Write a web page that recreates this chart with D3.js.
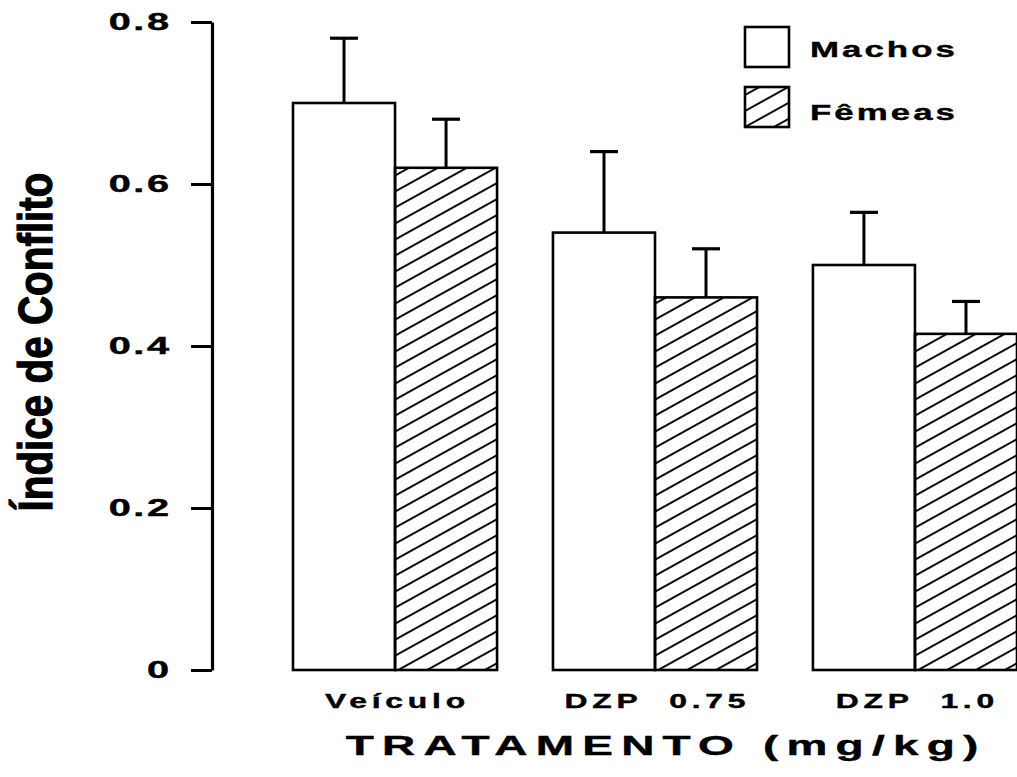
<!DOCTYPE html>
<html>
<head>
<meta charset="utf-8">
<script src="https://cdn.jsdelivr.net/npm/d3@7"></script>
<style>
  body { margin: 0; background: #fff; }
  svg { display: block; }
  text { font-family: "Liberation Sans", Arial, sans-serif; font-weight: bold; fill: #000; }
</style>
</head>
<body>
<svg id="chart" width="1017" height="777"></svg>
<script>
// Conflict index by treatment, males vs females (mean + SEM)
const categories = ["Veículo", "DZP  0.75", "DZP  1.0"];
const seriesNames = ["Machos", "Fêmeas"];
const machos = [0.70, 0.54, 0.50];
const machosErr = [0.08, 0.10, 0.065];
const femeas = [0.62, 0.46, 0.415];
const femeasErr = [0.06, 0.06, 0.04];
const yTicks = [0, 0.2, 0.4, 0.6, 0.8];
const yTickLabels = ["0", "0.2", "0.4", "0.6", "0.8"];
const yTitle = "Índice de Conflito";
const xTitle = "TRATAMENTO (mg/kg)";

const rows = categories.map((c, i) => ({
  cat: c,
  bars: [
    { s: seriesNames[0], v: machos[i], e: machosErr[i] },
    { s: seriesNames[1], v: femeas[i], e: femeasErr[i] }
  ]
}));

const svg = d3.select("#chart");

// hatch pattern for the female series
const defs = svg.append("defs");
defs.append("pattern")
  .attr("id", "hatch")
  .attr("patternUnits", "userSpaceOnUse")
  .attr("width", 14).attr("height", 14)
  .attr("patternTransform", "rotate(-29)")
  .append("line")
  .attr("x1", -2).attr("x2", 16).attr("y1", 7).attr("y2", 7)
  .attr("stroke", "#000").attr("stroke-width", 1.9);

const y = d3.scaleLinear().domain([0, 0.8]).range([670, 22]);
const x0 = d3.scaleBand().domain(categories).range([293, 1017]).paddingInner(0.215).paddingOuter(0);
const x1 = d3.scaleBand().domain(seriesNames).range([0, x0.bandwidth()]);
const fill = d3.scaleOrdinal().domain(seriesNames).range(["#fff", "url(#hatch)"]);

// horizontally stretch a text element around its own x anchor
function stretch(sel, sx) {
  sel.each(function () {
    const t = d3.select(this);
    const x = +t.attr("x") || 0;
    t.attr("transform", `translate(${x * (1 - sx)},0) scale(${sx},1)`);
  });
}
function widthOf(node) { return node.getComputedTextLength(); }

// y axis
const yAxis = d3.axisLeft(y)
  .tickValues(yTicks)
  .tickFormat((d, i) => yTickLabels[i])
  .tickSize(21)
  .tickSizeOuter(0)
  .tickPadding(22);

const gy = svg.append("g").attr("transform", "translate(212,0)").call(yAxis);
gy.select(".domain").attr("stroke-width", 3.2).attr("stroke", "#000");
gy.selectAll(".tick line").attr("stroke-width", 3).attr("stroke", "#000");
const tickText = gy.selectAll(".tick text")
  .attr("font-size", 23)
  .attr("font-family", null)
  .style("letter-spacing", "1.5px")
  .attr("dx", 1.5)
  .attr("fill", "#000")
  .attr("stroke", "#000").attr("stroke-width", 0.4);
{
  const ref = tickText.filter((d, i) => yTickLabels[i] === "0.8").node();
  stretch(tickText, 63 / widthOf(ref));
}

// bars
const groups = svg.append("g").selectAll("g.grp")
  .data(rows).join("g")
  .attr("class", "grp")
  .attr("transform", d => `translate(${x0(d.cat)},0)`);

groups.selectAll("rect")
  .data(d => d.bars).join("rect")
  .attr("x", d => x1(d.s))
  .attr("y", d => y(d.v))
  .attr("width", x1.bandwidth())
  .attr("height", d => y(0) - y(d.v))
  .attr("fill", d => fill(d.s))
  .attr("stroke", "#000")
  .attr("stroke-width", 2.6);

// error bars (upper only)
const capW = 28;
const eb = groups.selectAll("g.err").data(d => d.bars).join("g").attr("class", "err");
eb.append("line")
  .attr("x1", d => x1(d.s) + x1.bandwidth() / 2)
  .attr("x2", d => x1(d.s) + x1.bandwidth() / 2)
  .attr("y1", d => y(d.v))
  .attr("y2", d => y(d.v + d.e))
  .attr("stroke", "#000").attr("stroke-width", 3);
eb.append("line")
  .attr("x1", d => x1(d.s) + x1.bandwidth() / 2 - capW / 2)
  .attr("x2", d => x1(d.s) + x1.bandwidth() / 2 + capW / 2)
  .attr("y1", d => y(d.v + d.e))
  .attr("y2", d => y(d.v + d.e))
  .attr("stroke", "#000").attr("stroke-width", 3.2);

// category labels
const catText = svg.append("g").selectAll("text")
  .data(categories).join("text")
  .attr("x", d => x0(d) + x0.bandwidth() / 2)
  .attr("y", 708)
  .attr("text-anchor", "middle")
  .attr("font-size", 20)
  .attr("dx", 1.5)
  .style("letter-spacing", "3px")
  .style("white-space", "pre")
  .attr("stroke", "#000").attr("stroke-width", 0.4)
  .text(d => d);
stretch(catText, 145 / widthOf(catText.node()));

// x title
const xt = svg.append("text")
  .attr("x", 662)
  .attr("y", 755)
  .attr("text-anchor", "middle")
  .attr("font-size", 28)
  .attr("dx", 2.5)
  .style("letter-spacing", "5px")
  .attr("stroke", "#000").attr("stroke-width", 0.4)
  .text(xTitle);
stretch(xt, 641 / widthOf(xt.node()));

// y title (condensed, rotated)
const yt = svg.append("text")
  .attr("text-anchor", "middle")
  .attr("font-size", 49)
  .attr("stroke", "#000").attr("stroke-width", 1.2)
  .text(yTitle);
yt.attr("transform", `translate(52,342) rotate(-90) scale(${339 / widthOf(yt.node())},1)`);

// legend
const legend = svg.append("g").selectAll("g")
  .data(seriesNames).join("g")
  .attr("transform", (d, i) => `translate(745,${27 + i * 60})`);
legend.append("rect")
  .attr("width", 44).attr("height", 40)
  .attr("fill", d => fill(d))
  .attr("stroke", "#000").attr("stroke-width", 2.6);
const legText = legend.append("text")
  .attr("x", 65)
  .attr("y", (d, i) => i === 0 ? 30 : 33)
  .attr("font-size", 23)
  .style("letter-spacing", "2px")
  .attr("stroke", "#000").attr("stroke-width", 0.4)
  .text(d => d);
stretch(legText, 148 / widthOf(legText.node()));
</script>
</body>
</html>
